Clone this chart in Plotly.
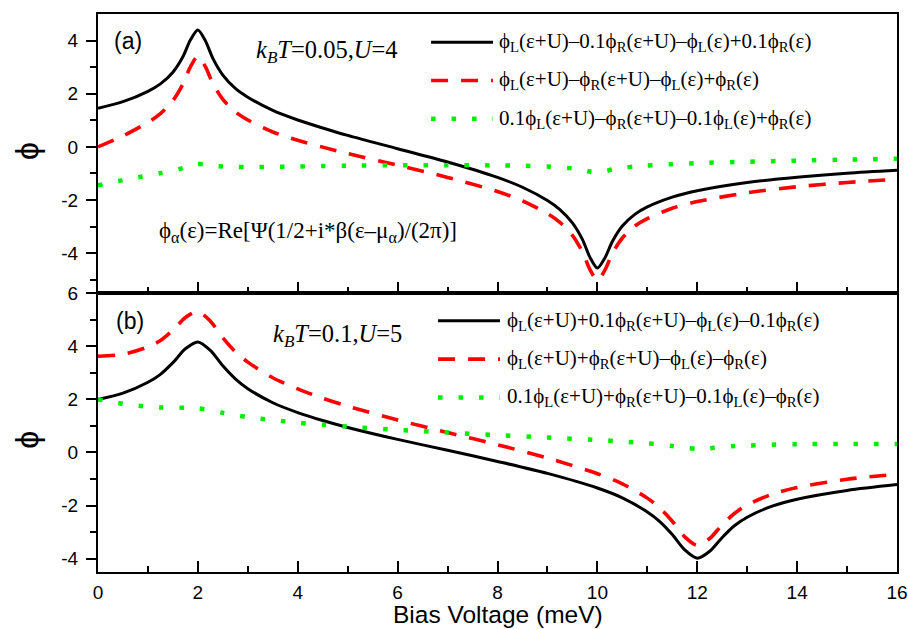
import plotly.graph_objects as go

# ---------------- data ----------------
# panel (a): k_B T = 0.05, U = 4
bias_a = [0, 0.5, 1, 1.25, 1.5, 1.7, 1.85, 2, 2.15, 2.3, 2.5, 2.75, 3, 3.5, 4, 4.5, 5, 6, 7, 8,
          8.5, 9, 9.25, 9.5, 9.7, 9.85, 10, 10.15, 10.3, 10.5, 10.75, 11, 11.5, 12, 13, 14, 15, 16]
black_a = [1.45, 1.70, 2.09, 2.37, 2.81, 3.39, 4.02, 4.40, 3.99, 3.33, 2.70, 2.20, 1.87, 1.37, 1.01,
           0.71, 0.43, -0.07, -0.57, -1.15, -1.52, -2.02, -2.36, -2.86, -3.48, -4.15, -4.56, -4.18,
           -3.56, -2.98, -2.54, -2.26, -1.89, -1.65, -1.34, -1.14, -0.99, -0.88]
red_a = [0.00, 0.41, 0.92, 1.25, 1.74, 2.36, 3.01, 3.41, 3.02, 2.38, 1.79, 1.32, 1.01, 0.56, 0.25,
         -0.01, -0.25, -0.69, -1.15, -1.68, -2.03, -2.51, -2.84, -3.33, -3.95, -4.61, -5.02, -4.64,
         -4.01, -3.43, -2.98, -2.70, -2.31, -2.06, -1.73, -1.50, -1.34, -1.22]
green_a = [-1.45, -1.25, -1.08, -0.99, -0.90, -0.80, -0.71, -0.65, -0.66, -0.71, -0.74, -0.76, -0.76,
           -0.75, -0.74, -0.72, -0.71, -0.69, -0.69, -0.70, -0.71, -0.74, -0.77, -0.81, -0.86, -0.93,
           -0.96, -0.92, -0.85, -0.79, -0.74, -0.70, -0.65, -0.61, -0.56, -0.52, -0.48, -0.45]

# panel (b): k_B T = 0.1, U = 5
bias_b = [0, 0.5, 1, 1.25, 1.5, 1.75, 2, 2.25, 2.5, 2.75, 3, 3.5, 4, 4.5, 5, 6, 7, 8, 9, 10,
          10.5, 11, 11.25, 11.5, 11.75, 12, 12.25, 12.5, 12.75, 13, 13.5, 14, 15, 16]
black_b = [1.99, 2.23, 2.64, 2.94, 3.38, 3.90, 4.16, 3.84, 3.26, 2.77, 2.40, 1.87, 1.50, 1.20, 0.94,
           0.49, 0.08, -0.34, -0.79, -1.34, -1.71, -2.24, -2.60, -3.09, -3.67, -3.98, -3.72, -3.20,
           -2.75, -2.44, -2.02, -1.76, -1.43, -1.21]
red_b = [3.62, 3.69, 3.97, 4.21, 4.60, 5.08, 5.30, 4.94, 4.32, 3.79, 3.40, 2.81, 2.39, 2.04, 1.74,
         1.22, 0.75, 0.29, -0.21, -0.80, -1.18, -1.72, -2.09, -2.59, -3.18, -3.50, -3.24, -2.72,
         -2.29, -1.98, -1.57, -1.32, -1.01, -0.82]
green_b = [1.99, 1.83, 1.72, 1.69, 1.68, 1.68, 1.66, 1.59, 1.49, 1.40, 1.33, 1.22, 1.12, 1.04, 0.97,
           0.85, 0.75, 0.65, 0.56, 0.47, 0.41, 0.34, 0.30, 0.24, 0.17, 0.14, 0.16, 0.20, 0.24, 0.26,
           0.29, 0.31, 0.32, 0.32]

# legend texts
names_a = [
    "ϕ<sub>L</sub>(ε+U)–0.1ϕ<sub>R</sub>(ε+U)–ϕ<sub>L</sub>(ε)+0.1ϕ<sub>R</sub>(ε)",
    "ϕ<sub>L</sub>(ε+U)–ϕ<sub>R</sub>(ε+U)–ϕ<sub>L</sub>(ε)+ϕ<sub>R</sub>(ε)",
    "0.1ϕ<sub>L</sub>(ε+U)–ϕ<sub>R</sub>(ε+U)–0.1ϕ<sub>L</sub>(ε)+ϕ<sub>R</sub>(ε)",
]
names_b = [
    "ϕ<sub>L</sub>(ε+U)+0.1ϕ<sub>R</sub>(ε+U)–ϕ<sub>L</sub>(ε)–0.1ϕ<sub>R</sub>(ε)",
    "ϕ<sub>L</sub>(ε+U)+ϕ<sub>R</sub>(ε+U)–ϕ<sub>L</sub>(ε)–ϕ<sub>R</sub>(ε)",
    "0.1ϕ<sub>L</sub>(ε+U)+ϕ<sub>R</sub>(ε+U)–0.1ϕ<sub>L</sub>(ε)–ϕ<sub>R</sub>(ε)",
]

# axis ticks
x_ticks = [0, 2, 4, 6, 8, 10, 12, 14, 16]
x_minor = [1, 3, 5, 7, 9, 11, 13, 15]
ya_ticks = [-4, -2, 0, 2, 4]
ya_minor = [-5, -3, -1, 1, 3]
yb_ticks = [-4, -2, 0, 2, 4, 6]
yb_minor = [-3, -1, 1, 3, 5]

# ---------------- styles ----------------
SANS = "Liberation Sans, Arial, sans-serif"
SERIF = "Liberation Serif, Times New Roman, serif"
styles = [
    dict(color="black", width=3, dash="solid"),
    dict(color="#ff0000", width=3.6, dash="17px,13px"),
    dict(color="#00ee00", width=4.5, dash="4.5px,16px"),
]

fig = go.Figure()
for ys, st in zip([black_a, red_a, green_a], styles):
    fig.add_trace(go.Scatter(x=bias_a, y=ys, mode="lines", line=dict(st, shape="spline", smoothing=0.8),
                             xaxis="x2", yaxis="y2", showlegend=False, hoverinfo="skip"))
for ys, st in zip([black_b, red_b, green_b], styles):
    fig.add_trace(go.Scatter(x=bias_b, y=ys, mode="lines", line=dict(st, shape="spline", smoothing=0.8),
                             xaxis="x", yaxis="y", showlegend=False, hoverinfo="skip"))

frame = dict(showline=True, linewidth=2, linecolor="black", mirror=True, automargin=False,
             showgrid=False, zeroline=False, tickwidth=2, tickcolor="black")

xax = dict(frame, range=[0, 16], ticks="inside", ticklen=11, tickmode="array",
           tickvals=x_ticks, ticktext=[str(v) for v in x_ticks],
           minor=dict(ticks="inside", ticklen=6, tickwidth=2, tickcolor="black",
                      tickmode="array", tickvals=x_minor, showgrid=False))

def yax(rng, ticks, minor, dom):
    return dict(frame, range=rng, domain=dom, ticks="outside", ticklen=10, tickmode="array",
                tickvals=ticks, ticktext=[str(v) for v in ticks],
                tickfont=dict(family=SANS, size=19, color="black"), ticklabelstandoff=4,
                minor=dict(ticks="outside", ticklen=6, tickwidth=2, tickcolor="black",
                           tickmode="array", tickvals=minor, showgrid=False))

def right_ticks(rng, over, anchor):
    return dict(range=rng, overlaying=over, anchor=anchor, side="right", ticks="inside",
                ticklen=5, tickwidth=1.5, tickcolor="black", dtick=1, tick0=0, automargin=False,
                showticklabels=False, showgrid=False, zeroline=False, showline=False)

fig.update_layout(
    width=908, height=629,
    margin=dict(l=98, r=11, t=14, b=57),
    paper_bgcolor="white", plot_bgcolor="white",
    xaxis=dict(xax, anchor="y", domain=[0, 1],
               tickfont=dict(family=SANS, size=19, color="black"), ticklabelstandoff=2),
    xaxis2=dict(xax, anchor="y2", domain=[0, 1], showticklabels=False, matches="x"),
    yaxis=yax([-4.5, 6], yb_ticks, yb_minor, [0, 0.5]),
    yaxis2=yax([-5.5, 5], ya_ticks, ya_minor, [0.5, 1]),
    yaxis3=right_ticks([-4.5, 6], "y", "x"),
    yaxis4=right_ticks([-5.5, 5], "y2", "x2"),
)

ann = []
# axis titles
ann.append(dict(text="Bias Voltage (meV)", xref="paper", yref="paper", x=0.5, y=-0.077,
                xanchor="center", yanchor="middle", showarrow=False,
                font=dict(family=SANS, size=24.5, color="black")))
for yp in (0.7545, 0.2366):
    ann.append(dict(text="ϕ", xref="paper", yref="paper", x=-0.089, y=yp, textangle=-90,
                    xanchor="center", yanchor="middle", showarrow=False,
                    font=dict(family=SANS, size=32, color="black")))
# panel labels
ann.append(dict(text="(a)", xref="x2", yref="y2", x=0.6, y=4.0, showarrow=False,
                xanchor="center", yanchor="middle", font=dict(family=SANS, size=23, color="black")))
ann.append(dict(text="(b)", xref="x", yref="y", x=0.64, y=4.95, showarrow=False,
                xanchor="center", yanchor="middle", font=dict(family=SANS, size=23, color="black")))
# parameters
ann.append(dict(text="<i>k</i><sub><i>B</i></sub><i>T</i>=0.05,<i>U</i>=4", xref="x2", yref="y2",
                x=3.12, y=3.6, showarrow=False, xanchor="left", yanchor="middle",
                font=dict(family=SERIF, size=24.5, color="black")))
ann.append(dict(text="<i>k</i><sub><i>B</i></sub><i>T</i>=0.1,<i>U</i>=5", xref="x", yref="y",
                x=3.46, y=4.4, showarrow=False, xanchor="left", yanchor="middle",
                font=dict(family=SERIF, size=24.5, color="black")))
ann.append(dict(text="ϕ<sub>α</sub>(ε)=Re[Ψ(1/2+i*β(ε–μ<sub>α</sub>)/(2π)]", xref="x2", yref="y2",
                x=1.18, y=-3.2, showarrow=False, xanchor="left", yanchor="middle",
                font=dict(family=SERIF, size=23, color="black")))

# legend keys and texts
shapes = []
leg_a_y = [3.94, 2.50, 1.06]
leg_b_y = [4.96, 3.51, 2.07]
for names, ys, x0, x1, xt, xr, yr in (
        (names_a, leg_a_y, 6.67, 7.91, 7.99, "x2", "y2"),
        (names_b, leg_b_y, 6.81, 8.05, 8.15, "x", "y")):
    for name, yy, st in zip(names, ys, styles):
        shapes.append(dict(type="line", xref=xr, yref=yr, x0=x0, x1=x1, y0=yy, y1=yy,
                           line=dict(color=st["color"], width=st["width"], dash=st["dash"])))
        ann.append(dict(text=name, xref=xr, yref=yr, x=xt, y=yy, showarrow=False,
                        xanchor="left", yanchor="middle",
                        font=dict(family=SERIF, size=21, color="black")))

fig.update_layout(annotations=ann, shapes=shapes)
fig.write_html("out.html", config={"displayModeBar": False})
